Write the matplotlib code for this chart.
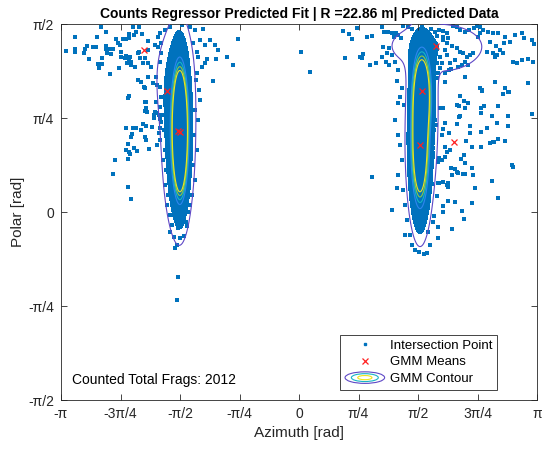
import numpy as np
import matplotlib
matplotlib.use('Agg')
import matplotlib.pyplot as plt
from matplotlib.patches import Ellipse
from matplotlib.legend_handler import HandlerBase
from matplotlib.lines import Line2D

plt.rcParams['font.family'] = ['Liberation Sans', 'DejaVu Sans']

# fitted GMM, angles in degrees (azimuth, polar)
gmm_mu_az = [-90.0, -91.3, -99.6, -117.0, 93.3, 91.5, 103.6, 117.5]
gmm_mu_pol = [38.3, 38.8, 57.9, 77.7, 57.9, 32.1, 79.6, 33.7]
gmm_sd_az = [3.3, 7.5, 12.0, 30.0, 4.5, 4.5, 30.0, 22.0]
gmm_sd_pol = [17.0, 30.0, 14.0, 14.0, 12.0, 20.0, 9.2, 22.0]
gmm_w = [0.27, 0.15, 0.015, 0.03, 0.12, 0.26, 0.078, 0.06]

# contour levels of the mixture pdf (per deg^2)
contour_levels = [2.5e-5, 1.5e-4, 1.85e-4, 2.2e-4, 2.55e-4]
contour_colors = ['#5E48C6', '#2F86EE', '#18B4C6', '#8CC846', '#EEE51C']
dense_level = 5e-5   # above this the points pile up into a solid patch

n_frags = 2012

# intersection points (az, pol) in degrees
left_pts = [
    (-150.0, 88.7), (-169.2, 83.9), (-145.7, 86.3), (-152.8, 83.6), (-176.2, 77.2), (-169.6, 77.9),
    (-169.2, 76.7), (-162.1, 77.9), (-162.8, 76.3), (-160.1, 79.6), (-156.0, 79.1), (-153.8, 79.1),
    (-159.0, 73.1), (-145.7, 79.5), (-146.2, 77.9), (-143.7, 77.9), (-145.0, 76.0), (-142.0, 75.5),
    (-140.7, 77.9), (-138.2, 82.8), (-136.9, 80.8), (-135.6, 79.9), (-133.1, 82.7), (-130.6, 82.8),
    (-128.8, 85.2), (-128.8, 83.2), (-125.5, 88.4), (-123.5, 86.3), (-121.0, 88.4), (-124.8, 84.7),
    (-118.5, 85.2), (-134.4, 76.7), (-134.4, 74.3), (-130.6, 74.7), (-131.8, 73.6), (-128.8, 72.8),
    (-128.0, 74.3), (-149.0, 73.6), (-149.0, 70.7), (-151.5, 69.1), (-152.0, 70.7), (-143.2, 65.9),
    (-136.1, 69.1), (-129.9, 71.2), (-127.3, 71.9), (-126.8, 70.4), (-124.3, 69.6), (-121.8, 76.0),
    (-120.5, 73.6), (-121.0, 76.7), (-118.0, 71.2), (-116.7, 73.6), (-114.2, 71.2), (-112.2, 69.3),
    (-114.2, 82.0), (-114.2, 77.5), (-121.8, 63.2), (-119.7, 62.4), (-117.2, 60.0), (-116.2, 59.2),
    (-114.2, 64.5), (-128.8, 55.5), (-129.3, 54.4), (-116.2, 52.8), (-115.5, 49.9), (-110.4, 61.6),
    (-107.9, 64.8), (-109.1, 79.9), (-106.6, 79.1), (-104.1, 76.0), (-105.4, 71.9), (-106.6, 83.6),
    (-104.1, 80.8), (-115.9, 52.5), (-116.5, 48.5), (-114.7, 48.0), (-109.4, 46.4), (-107.6, 47.5),
    (-105.7, 46.4), (-109.4, 44.9), (-105.1, 44.4), (-131.1, 40.1), (-125.3, 40.1), (-123.3, 40.4),
    (-117.8, 42.0), (-115.9, 41.3), (-111.4, 40.8), (-119.5, 39.3), (-126.5, 37.2), (-127.3, 36.0),
    (-116.5, 36.0), (-115.7, 34.5), (-105.1, 40.1), (-105.7, 38.0), (-107.2, 32.1), (-129.6, 32.4),
    (-124.8, 30.8), (-122.7, 29.2), (-131.1, 29.7), (-128.3, 28.9), (-127.8, 27.8), (-113.4, 30.0),
    (-129.6, 25.2), (-139.4, 24.9), (-140.9, 18.2), (-129.1, 11.8), (-127.1, 6.4),
    (-72.4, 87.6), (-45.9, 82.8), (-54.7, 74.1), (-50.1, 70.4), (-63.0, 73.1), (-64.8, 62.7),
    (-69.8, 73.1), (-71.1, 71.5), (-73.6, 69.6), (-77.4, 76.7), (-76.2, 74.3), (-76.9, 66.4),
    (-79.9, 80.8), (-93.8, -17.4), (-92.0, -15.8), (-91.7, -31.0), (-92.5, -42.1),
    (-107.4, 60.8), (-105.1, 59.8), (-104.4, 55.1), (-108.1, 52.7), (-105.1, 50.3), (-108.9, 47.9),
    (-102.9, 46.4), (-104.4, 43.1), (-102.1, 39.3), (-105.1, 34.5), (-101.3, 29.7), (-102.9, 24.9),
    (-100.6, 20.1), (-101.3, 12.9), (-99.1, 8.1), (-99.8, 3.4), (-97.6, -1.4), (-96.1, -6.2),
    (-97.6, -9.6), (-94.5, -12.0), (-90.0, -12.4), (-87.0, -11.5), (-91.5, -7.7), (-85.5, -4.8),
    (-83.9, 0.0), (-84.7, -6.7), (-77.9, 63.2), (-75.6, 58.4), (-74.9, 53.6), (-78.7, 48.8),
    (-76.4, 44.0), (-79.4, 36.9), (-77.1, 29.7), (-80.2, 22.5), (-78.7, 15.3), (-80.9, 8.1),
    (-82.4, 3.4), (-101.3, 87.1), (-97.6, 88.6), (-88.5, 89.5), (-82.4, 88.6), (-78.7, 87.1),
    (-105.1, 85.7), (-74.9, 82.3), (-71.1, 79.9), (-67.3, 82.3), (-63.5, 79.9), (-61.3, 77.6),
]

mid_pts = [(1.5, 76.7), (8.3, 67.2)]

right_pts = [
    (34.8, 73.6), (33.1, 86.6), (38.0, 85.1), (39.9, 82.8), (43.6, 88.2), (46.1, 74.3), (48.6, 75.5),
    (47.4, 73.9), (51.2, 83.9), (55.0, 84.4), (53.7, 70.4), (58.2, 71.2), (62.5, 88.7), (67.5, 86.3),
    (73.9, 62.9), (76.4, 55.2), (75.1, 52.0), (63.8, 79.1), (68.3, 78.4), (55.0, 16.9), (73.9, 11.3),
    (70.1, 1.0), (80.2, -11.0), (91.0, -19.0), (94.5, -20.1), (96.6, -19.5),
    (64.3, 86.3), (70.1, 85.8), (71.8, 83.9), (73.4, 85.5), (75.1, 84.7), (76.9, 83.2), (78.9, 89.2),
    (82.7, 88.7), (85.2, 87.5), (88.5, 84.7), (92.8, 88.4), (99.6, 87.5), (102.9, 86.3), (106.1, 87.1),
    (109.1, 86.8), (111.7, 85.8), (108.7, 83.9), (112.9, 83.2), (116.7, 89.0), (119.7, 88.4),
    (121.8, 87.1), (125.5, 86.3), (128.8, 87.1), (132.6, 87.9), (134.4, 89.0), (136.9, 88.7),
    (136.9, 85.5), (135.6, 83.6), (139.4, 87.1), (143.2, 86.3), (146.9, 85.8), (150.7, 85.5),
    (155.8, 83.9), (163.4, 84.7), (168.4, 85.5), (170.2, 83.2), (176.0, 82.3), (177.7, 80.4),
    (144.5, 81.5), (149.0, 79.5), (152.0, 77.5), (155.0, 80.8), (159.6, 81.5), (142.0, 76.7),
    (146.9, 76.0), (148.2, 74.3), (149.5, 75.2), (154.5, 76.0), (162.1, 71.9), (165.1, 71.5),
    (168.4, 72.8), (173.4, 73.1), (176.7, 71.9), (66.3, 76.3), (62.5, 74.3), (65.8, 71.9), (68.3, 70.4),
    (74.3, 62.7), (113.4, 68.0), (114.7, 68.3), (125.5, 64.5), (148.2, 62.4), (155.8, 59.2),
    (158.3, 57.6), (173.4, 61.6), (136.9, 59.5), (138.2, 58.4),
    (109.1, 82.3), (111.7, 80.8), (115.5, 79.5), (119.3, 78.4), (121.8, 76.7), (124.3, 76.0),
    (126.8, 74.3), (129.3, 75.2), (131.8, 76.0), (125.5, 71.9), (123.0, 70.4), (128.0, 70.4),
    (120.5, 69.6), (114.2, 71.2), (118.0, 72.8), (111.7, 75.2), (110.4, 77.5), (106.6, 74.3),
    (107.9, 71.2), (104.1, 71.2), (106.6, 68.8), (110.4, 66.4), (105.4, 66.4), (104.1, 64.0),
    (110.4, 62.4), (96.0, 83.3), (100.6, 81.4), (104.4, 84.3), (94.5, 79.5),
    (121.8, 55.5), (125.0, 53.3), (138.2, 58.1), (159.0, 57.6), (119.3, 51.2), (121.0, 50.7),
    (125.5, 49.9), (140.1, 50.9), (137.4, 49.6), (137.6, 47.5), (150.3, 50.7), (176.0, 46.9),
    (121.8, 46.0), (121.0, 45.3), (145.7, 46.0), (157.8, 46.0), (110.4, 42.5), (119.3, 42.0),
    (129.3, 41.2), (149.5, 42.5), (158.3, 41.3), (142.0, 40.1), (108.7, 39.7), (113.7, 37.7),
    (129.3, 38.0), (137.6, 38.2), (107.9, 36.9), (126.3, 34.1), (150.7, 34.9), (155.8, 34.1),
    (144.5, 32.9), (146.5, 33.4), (147.5, 33.7), (110.4, 31.3), (130.6, 31.3), (137.6, 31.3),
    (114.2, 29.7), (111.7, 28.9), (125.0, 27.3), (110.4, 26.5), (106.1, 25.7), (107.9, 24.9),
    (105.4, 24.1), (122.3, 25.4), (125.5, 23.3), (130.6, 21.2), (114.7, 21.2), (118.0, 20.6),
    (119.3, 19.3), (120.5, 18.5), (123.8, 18.0), (125.5, 18.0), (115.9, 17.7), (131.8, 17.7),
    (161.6, 21.7), (105.4, 14.0), (112.9, 13.7), (112.9, 12.1), (133.1, 11.3),
    (101.3, 30.6), (101.1, 28.2), (101.3, 26.3), (99.1, 21.7), (99.8, 18.5), (102.9, 44.0),
    (103.6, 41.6), (102.1, 39.3), (99.8, 38.0), (106.6, 49.6), (109.1, 49.6), (100.4, 48.8),
    (105.9, 14.0), (99.6, 13.4), (100.8, 13.4), (104.6, 7.7), (112.9, 5.4), (109.1, 2.9),
    (118.0, 4.9), (130.8, 4.2), (123.0, 0.6), (108.7, 0.1), (102.3, -1.8), (124.8, -3.4),
    (104.9, -7.3), (115.7, -8.3), (104.9, -12.6), (160.9, 22.5), (150.7, 6.6), (145.7, 14.8),
    (109.1, 14.5), (111.7, 12.9), (154.5, 56.5), (128.0, 52.0),
    (72.6, 44.0), (74.9, 36.9), (76.4, 32.1), (77.9, 24.9), (74.9, 17.7), (78.7, 10.5), (80.2, 3.4),
    (81.7, -3.8), (83.9, -11.0), (85.5, -15.8), (87.7, -18.2), (99.1, -15.8), (97.6, -9.6),
    (101.3, -4.8), (70.3, 75.2), (72.6, 71.8), (74.9, 68.0), (77.9, 59.4), (79.4, 51.2),
]

xtick_labels = ['-\u03c0', '-3\u03c0/4', '-\u03c0/2', '-\u03c0/4', '0',
                '\u03c0/4', '\u03c0/2', '3\u03c0/4', '\u03c0']
ytick_labels = ['-\u03c0/2', '-\u03c0/4', '0', '\u03c0/4', '\u03c0/2']

BLUE = '#0072BD'


def gmm_pdf(az, pol):
    w = np.array(gmm_w) / np.sum(gmm_w)
    p = np.zeros_like(az)
    for k in range(len(w)):
        za = (az - gmm_mu_az[k]) / gmm_sd_az[k]
        zp = (pol - gmm_mu_pol[k]) / gmm_sd_pol[k]
        p += w[k] * np.exp(-0.5 * (za ** 2 + zp ** 2)) / (2 * np.pi * gmm_sd_az[k] * gmm_sd_pol[k])
    return p


class ContourKey:
    pass


class HandlerContourKey(HandlerBase):
    def create_artists(self, legend, orig_handle, xdescent, ydescent, width, height, fontsize, trans):
        cx = width / 2 - xdescent
        cy = height / 2 - ydescent
        arts = []
        for frac, col in zip([1.0, 0.68, 0.36], [contour_colors[0], contour_colors[2], contour_colors[4]]):
            e = Ellipse((cx, cy), width * frac, height * 1.25 * frac, fill=False,
                        edgecolor=col, lw=0.8, transform=trans)
            arts.append(e)
        return arts


fig = plt.figure(figsize=(5.42, 4.53), dpi=100)
ax = fig.add_axes([61 / 542, 53 / 453, 476 / 542, 376 / 453])

# pdf on a grid
az_g = np.linspace(-180, 180, 721)
pol_g = np.linspace(-90, 90, 361)
AZ, POL = np.meshgrid(az_g, pol_g)
P = gmm_pdf(AZ, POL)
X, Y = np.deg2rad(AZ), np.deg2rad(POL)

ax.contourf(X, Y, P, levels=[dense_level, P.max() * 2], colors=[BLUE], zorder=1)

all_pts = np.array(left_pts + mid_pts + right_pts)
ax.scatter(np.deg2rad(all_pts[:, 0]), np.deg2rad(all_pts[:, 1]), s=5, marker='s',
           color=BLUE, linewidths=0, zorder=2)

ax.contour(X, Y, P, levels=contour_levels, colors=contour_colors, linewidths=0.8, zorder=3)

ax.plot(np.deg2rad(gmm_mu_az), np.deg2rad(gmm_mu_pol), ls='none', marker='x', ms=5,
        mew=0.9, color='#FF2020', zorder=4)

ax.set_xlim(-np.pi, np.pi)
ax.set_ylim(-np.pi / 2, np.pi / 2)
ax.set_xticks(np.linspace(-np.pi, np.pi, 9))
ax.set_xticklabels(xtick_labels)
ax.set_yticks(np.linspace(-np.pi / 2, np.pi / 2, 5))
ax.set_yticklabels(ytick_labels)
ax.tick_params(direction='in', top=True, right=True, length=4, width=0.6,
               labelsize=10, colors='#262626', pad=5)
for s in ax.spines.values():
    s.set_color('#262626')
    s.set_linewidth(0.6)

ax.set_xlabel('Azimuth [rad]', fontsize=11, color='#262626')
ax.set_ylabel('Polar [rad]', fontsize=11, color='#262626', labelpad=2)
ax.set_title('Counts Regressor Predicted Fit | R =22.86 m| Predicted Data',
             fontsize=10, fontweight='bold', pad=4)

ax.text(0.024, 0.053, 'Counted Total Frags: %d' % n_frags, transform=ax.transAxes,
        fontsize=10, va='center', ha='left')

h_pts = Line2D([], [], ls='none', marker='s', ms=2, color=BLUE)
h_mu = Line2D([], [], ls='none', marker='x', ms=5, mew=0.9, color='#FF2020')
leg = ax.legend([h_pts, h_mu, ContourKey()], ['Intersection Point', 'GMM Means', 'GMM Contour'],
                handler_map={ContourKey: HandlerContourKey()}, loc='lower right',
                bbox_to_anchor=(0.916, 0.027), fancybox=False, edgecolor='#262626',
                framealpha=1, fontsize=9.5, handlelength=3.0, borderpad=0.35,
                labelspacing=0.35, handletextpad=0.4, borderaxespad=0)
leg.get_frame().set_linewidth(0.6)

fig.savefig('out.png', dpi=100)
